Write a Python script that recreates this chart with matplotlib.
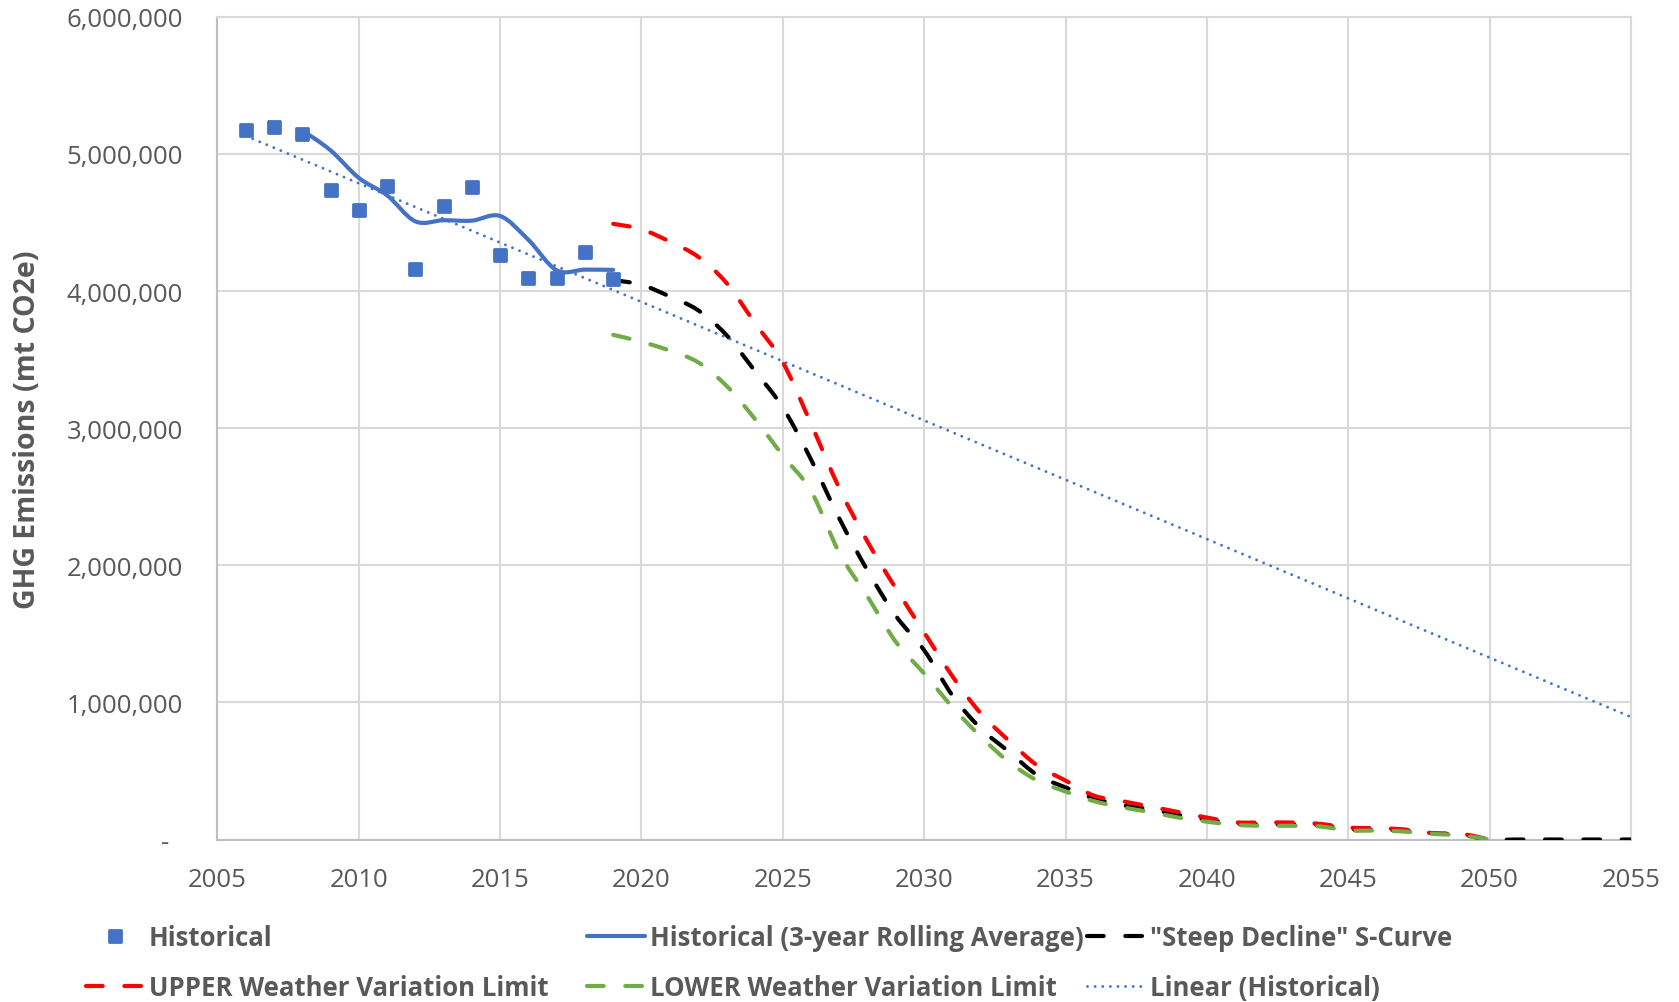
import numpy as np
import matplotlib
matplotlib.use("Agg")
import matplotlib.pyplot as plt
from matplotlib.path import Path
from matplotlib.patches import PathPatch
from matplotlib.lines import Line2D
from matplotlib.markers import MarkerStyle
import matplotlib.ticker as mticker

# --- data (values in millions of mt CO2e) ---
hist_years = list(range(2006, 2020))
hist_mt = [5.172, 5.195, 5.148, 4.734, 4.594, 4.766, 4.164,
           4.617, 4.758, 4.266, 4.094, 4.094, 4.281, 4.086]

rolling_years = list(range(2008, 2020))
rolling_mt = [5.172, 5.026, 4.825, 4.698, 4.508, 4.516,
              4.513, 4.547, 4.373, 4.151, 4.156, 4.154]

scurve_years = list(range(2019, 2056))
scurve_mt = [4.08, 4.045, 3.96, 3.86, 3.68, 3.42, 3.15, 2.77, 2.34, 1.96,
             1.63, 1.38, 1.05, 0.81, 0.64, 0.47, 0.38, 0.30, 0.25, 0.22,
             0.18, 0.145, 0.115, 0.11, 0.11, 0.105, 0.075, 0.072, 0.065,
             0.045, 0.035, 0.0, 0.0, 0.0, 0.0, 0.0, 0.0]

limit_years = list(range(2019, 2051))
upper_mt = [4.49, 4.45, 4.36, 4.25, 4.06, 3.77, 3.48, 3.03, 2.56, 2.17,
            1.83, 1.51, 1.19, 0.92, 0.72, 0.54, 0.43, 0.32, 0.28, 0.24,
            0.20, 0.16, 0.126, 0.124, 0.124, 0.114, 0.087, 0.083, 0.073,
            0.046, 0.041, 0.0]
lower_mt = [3.68, 3.63, 3.565, 3.48, 3.31, 3.07, 2.80, 2.54, 2.09, 1.77,
            1.44, 1.21, 0.965, 0.75, 0.565, 0.43, 0.35, 0.28, 0.235, 0.20,
            0.16, 0.13, 0.107, 0.10, 0.10, 0.095, 0.066, 0.065, 0.058,
            0.041, 0.03, 0.0]

trend_years = [2006, 2055]

x_ticks = list(range(2005, 2056, 5))
y_ticks = [0, 1e6, 2e6, 3e6, 4e6, 5e6, 6e6]

# colours
BLUE = "#4472C4"
RED = "#FF0000"
GREEN = "#70AD47"
BLACK = "#000000"
TEXT = "#595959"
GRID = "#D9D9D9"

plt.rcParams["font.family"] = ["Open Sans", "DejaVu Sans"]
FS = 18.5


def smooth_path(xs, ys):
    """Excel-style smoothed line: cubic Bezier through every point."""
    pts = np.column_stack([xs, ys]).astype(float)
    n = len(pts)
    verts = [pts[0]]
    codes = [Path.MOVETO]
    for i in range(n - 1):
        p0 = pts[max(i - 1, 0)]
        p1 = pts[i]
        p2 = pts[i + 1]
        p3 = pts[min(i + 2, n - 1)]
        verts += [p1 + (p2 - p0) / 6, p2 - (p3 - p1) / 6, p2]
        codes += [Path.CURVE4] * 3
    return Path(verts, codes)


def add_smooth(ax, xs, ys, color, lw, ls, z):
    patch = PathPatch(smooth_path(xs, np.array(ys) * 1e6), fill=False,
                      edgecolor=color, linewidth=lw, linestyle=ls,
                      capstyle="round", joinstyle="round", zorder=z)
    ax.add_patch(patch)


fig = plt.figure(figsize=(16.79, 10.03), dpi=100)
ax = fig.add_axes([0.1295, 0.162, 0.8419, 0.8203])

DASH = (0, (4.0, 5.2))
LW = 3.0

add_smooth(ax, rolling_years, rolling_mt, BLUE, LW, "-", 3)
add_smooth(ax, scurve_years, scurve_mt, BLACK, LW, DASH, 3)
add_smooth(ax, limit_years, upper_mt, RED, LW, DASH, 3)
add_smooth(ax, limit_years, lower_mt, GREEN, LW, DASH, 3)

# linear trend of the historical points (Excel trendline)
coef = np.polyfit(hist_years, np.array(hist_mt) * 1e6, 1)
ax.plot(trend_years, np.polyval(coef, trend_years), color=BLUE, lw=2.1,
        linestyle=(0, (0.01, 2.6)), dash_capstyle="round", zorder=5)

sq = MarkerStyle("s", joinstyle="round")
ax.plot(hist_years, np.array(hist_mt) * 1e6, linestyle="none", marker=sq,
        ms=9, mfc=BLUE, mec=BLUE, mew=2, zorder=4)

ax.set_xlim(2005, 2055)
ax.set_ylim(0, 6e6)
ax.set_xticks(x_ticks)
ax.set_yticks(y_ticks)
ax.yaxis.set_major_formatter(
    mticker.FuncFormatter(lambda v, p: "-  " if v == 0 else f"{v:,.0f}"))
ax.tick_params(axis="both", length=0, labelsize=FS, labelcolor=TEXT)
ax.tick_params(axis="y", pad=25)
ax.tick_params(axis="x", pad=20)
ax.grid(True, color=GRID, lw=1.5)
ax.set_axisbelow(True)
for s in ax.spines.values():
    s.set_color(GRID)
    s.set_linewidth(1.5)
ax.spines["bottom"].set_color("#BFBFBF")
ax.spines["left"].set_color("#BFBFBF")

fig.text(0.0165, 0.572, "GHG Emissions (mt CO2e)", rotation=90,
         ha="center", va="center", fontsize=20.5, fontweight="bold",
         color=TEXT)

# legend: three columns, each its own legend so column x-positions match
h_hist = Line2D([], [], linestyle="none", marker=sq, ms=9, mfc=BLUE,
                mec=BLUE, mew=2)
h_roll = Line2D([], [], color=BLUE, lw=LW, solid_capstyle="round")
h_black = Line2D([], [], color=BLACK, lw=LW, linestyle=DASH,
                 dash_capstyle="round")
h_red = Line2D([], [], color=RED, lw=LW, linestyle=DASH,
               dash_capstyle="round")
h_green = Line2D([], [], color=GREEN, lw=LW, linestyle=DASH,
                 dash_capstyle="round")
h_trend = Line2D([], [], color=BLUE, lw=2.1, linestyle=(0, (0.01, 2.6)),
                 dash_capstyle="round")

columns = [
    (86, [h_hist, h_red], ["Historical", "UPPER Weather Variation Limit"]),
    (587, [h_roll, h_green], ["Historical (3-year Rolling Average)",
                              "LOWER Weather Variation Limit"]),
    (1087, [h_black, h_trend], ['"Steep Decline" S-Curve',
                                "Linear (Historical)"]),
]
for x0, handles, labels in columns:
    fig.legend(handles, labels, loc="center left",
               bbox_to_anchor=(x0 / 1679, 1 - 963.5 / 1003),
               frameon=False, borderpad=0, borderaxespad=0,
               handlelength=2.25, handletextpad=0.2, labelspacing=0.92,
               prop={"size": FS, "weight": "bold"}, labelcolor=TEXT)

fig.savefig("out.png", dpi=100)
